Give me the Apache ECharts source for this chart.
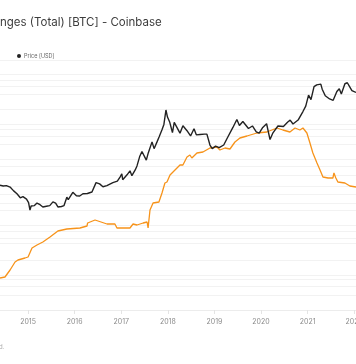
<!DOCTYPE html>
<html>
<head>
<meta charset="utf-8">
<script src="https://cdn.jsdelivr.net/npm/echarts@6/dist/echarts.min.js"></script>
<style>
html,body{margin:0;padding:0;background:#fff;}
#c{width:356px;height:364px;}
</style>
</head>
<body>
<div id="c"></div>
<script>
// ---- data ----
var priceDates = ['2014-05-26','2014-06-20','2014-07-15','2014-08-13','2014-09-10','2014-10-06','2014-11-01','2014-11-22','2014-12-20','2015-01-05','2015-01-16','2015-01-25','2015-02-20','2015-03-12','2015-04-05','2015-04-27','2015-05-25','2015-06-20','2015-07-15','2015-08-05','2015-08-23','2015-09-20','2015-10-10','2015-11-01','2015-11-12','2015-12-18','2016-01-15','2016-02-10','2016-03-06','2016-04-10','2016-05-16','2016-06-17','2016-06-24','2016-07-15','2016-08-10','2016-09-10','2016-10-27','2016-12-01','2016-12-22','2017-01-05','2017-01-12','2017-02-15','2017-03-10','2017-03-25','2017-04-20','2017-05-04','2017-05-25','2017-06-12','2017-07-16','2017-08-01','2017-08-30','2017-09-15','2017-10-08','2017-10-25','2017-11-16','2017-12-01','2017-12-17','2017-12-29','2018-01-16','2018-02-06','2018-02-20','2018-04-06','2018-04-29','2018-05-31','2018-06-28','2018-07-25','2018-08-12','2018-09-10','2018-10-15','2018-11-03','2018-11-27','2018-12-15','2019-01-10','2019-02-07','2019-03-15','2019-04-09','2019-05-26','2019-06-26','2019-07-16','2019-08-12','2019-09-25','2019-10-26','2019-11-25','2019-12-18','2020-01-15','2020-02-14','2020-03-12','2020-04-04','2020-05-13','2020-06-25','2020-07-27','2020-08-17','2020-09-08','2020-10-18','2020-11-25','2020-12-17','2021-01-08','2021-01-27','2021-02-20','2021-03-13','2021-04-14','2021-04-25','2021-05-19','2021-06-22','2021-07-20','2021-08-18','2021-09-06','2021-09-22','2021-10-20','2021-11-08','2021-11-28','2021-12-14','2022-01-15'];
var priceValues = [620,600,610,570,480,420,350,370,330,280,200,240,245,275,255,230,238,245,290,275,230,235,245,360,320,450,385,380,420,425,455,700,640,660,580,610,700,750,900,1050,800,1000,1200,960,1250,1500,2300,2900,1950,2750,4500,3300,4500,5700,7800,10000,19300,14000,11000,6900,11000,6700,9400,7500,5900,8200,6200,6300,6400,6400,3900,3300,3700,3450,3900,5200,8700,12500,9500,11400,8300,9300,7100,6700,8700,10300,5000,6800,9300,9100,11000,12200,10200,12200,18000,23000,38000,31000,56000,61000,63000,50000,37000,32000,30000,45000,51000,40000,64000,67000,55000,47000,43000];

var balanceDates = ['2014-05-26','2014-07-04','2014-08-13','2014-09-21','2014-10-14','2014-12-08','2015-01-01','2015-02-01','2015-03-12','2015-04-27','2015-06-22','2015-08-23','2015-11-01','2016-02-12','2016-04-07','2016-04-12','2016-06-09','2016-06-24','2016-09-11','2016-11-12','2016-11-28','2017-03-10','2017-04-03','2017-05-04','2017-06-21','2017-07-22','2017-07-30','2017-08-14','2017-09-07','2017-10-23','2017-11-16','2017-12-09','2017-12-25','2018-01-18','2018-02-26','2018-04-06','2018-04-29','2018-05-31','2018-06-23','2018-07-08','2018-08-17','2018-10-03','2018-11-27','2019-01-21','2019-02-13','2019-03-25','2019-05-03','2019-06-11','2019-07-20','2019-09-13','2019-11-30','2020-02-16','2020-05-05','2020-06-21','2020-08-15','2020-09-24','2020-11-01','2020-11-25','2020-12-26','2021-01-19','2021-02-11','2021-03-15','2021-04-08','2021-05-01','2021-06-10','2021-07-18','2021-07-26','2021-08-10','2021-08-26','2021-10-20','2021-11-28','2022-01-15'];
var balanceValues = [160000,165000,200000,240000,250000,260000,265000,310000,325000,340000,365000,395000,405000,410000,420000,435000,450000,440000,430000,430000,410000,410000,430000,425000,435000,440000,410000,500000,535000,540000,585000,635000,640000,675000,700000,725000,725000,765000,775000,760000,785000,790000,810000,815000,800000,810000,805000,840000,860000,870000,885000,890000,910000,900000,890000,910000,900000,910000,885000,835000,785000,735000,700000,665000,660000,660000,685000,660000,640000,635000,620000,615000];

// gridline levels
var priceGrid = [10,20,100,200,1000,2000,10000,20000,100000];
var balanceGrid = [75000,120000,155000,335000,360000,395000,535000,580000,620000,720000,830000,870000,905000,1080000,1120000,1150000,1250000];

var titleText = 'nges (Total) [BTC] - Coinbase';
var legendName = 'Price [USD]';
var footText = 'd.';

// ---- chart ----
var price = priceDates.map(function(d,i){return [d, priceValues[i]];});
var balance = balanceDates.map(function(d,i){return [d, balanceValues[i]];});
var gridStyle = {color:'#f2f2f2', width:1, type:'solid'};
function gridMark(vals){
  return {symbol:'none', silent:true, z:0, label:{show:false}, lineStyle:gridStyle,
    emphasis:{disabled:true}, animation:false,
    data: vals.map(function(v){return {yAxis:v};})};
}
var chart = echarts.init(document.getElementById('c'), null, {renderer:'canvas'});
chart.setOption({
  animation:false,
  backgroundColor:'#fff',
  textStyle:{fontFamily:'Inter, "Noto Sans", sans-serif'},
  title:{text:titleText, left:0, top:17, padding:0,
    textStyle:{fontSize:11.5, fontWeight:'normal', color:'#3d3d3d', fontFamily:'Inter, sans-serif'}},
  legend:{data:[legendName], left:12, top:48, icon:'circle', itemWidth:4, itemHeight:4, itemGap:4,
    textStyle:{fontSize:5.5, color:'#666', padding:[0,0,0,-2]}},
  graphic:[{type:'text', left:-1, top:344, style:{text:footText, fontSize:6, fill:'#aaa', fontFamily:'Inter, sans-serif'}}],
  grid:{left:0, right:0, top:60, bottom:54, containLabel:false, outerBoundsMode:'none'},
  xAxis:{type:'time', min:'2014-05-26', max:'2022-01-15',
    minInterval:365*24*3600*1000, maxInterval:366*24*3600*1000,
    axisLine:{lineStyle:{color:'#ececec'}},
    axisTick:{show:true, length:4, lineStyle:{color:'#e4e4e4'}},
    axisLabel:{formatter:'{yyyy}', fontSize:7, color:'#8a8a8a', margin:8, hideOverlap:false,
      alignMaxLabel:'center', alignMinLabel:'center'},
    splitLine:{show:false}},
  yAxis:[
    {type:'log', min:2.077, max:189600, show:false, splitLine:{show:false}},
    {type:'value', min:0, max:1250000, show:false, splitLine:{show:false}}
  ],
  series:[
    {name:'grid1', type:'line', yAxisIndex:0, data:[], z:0, markLine:gridMark(priceGrid), tooltip:{show:false}},
    {name:'grid2', type:'line', yAxisIndex:1, data:[], z:0, markLine:gridMark(balanceGrid), tooltip:{show:false}},
    {name:'Balance', type:'line', yAxisIndex:1, data:balance, showSymbol:false, z:3,
      lineStyle:{color:'#f7931a', width:1.3}, itemStyle:{color:'#f7931a'}},
    {name:legendName, type:'line', yAxisIndex:0, data:price, showSymbol:false, z:4,
      lineStyle:{color:'#222', width:1.4}, itemStyle:{color:'#222'}}
  ]
});
</script>
</body>
</html>
